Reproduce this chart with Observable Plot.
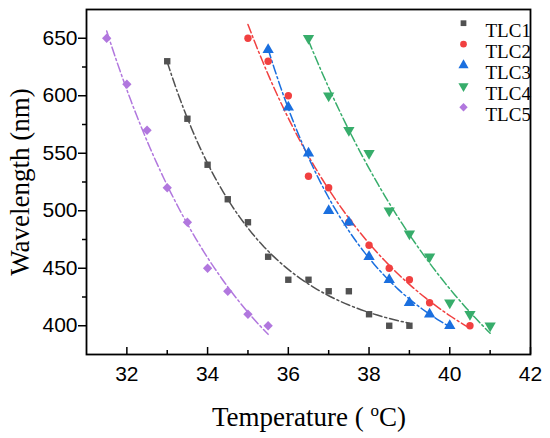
<!DOCTYPE html>
<html><head><meta charset="utf-8">
<script src="https://cdn.jsdelivr.net/npm/d3@7"></script>
<script src="https://cdn.jsdelivr.net/npm/@observablehq/plot@0.6"></script>
<style>body{margin:0;background:#fff}</style>
</head><body><div id="chart"></div>
<script>
const seriesNames = ["TLC1", "TLC2", "TLC3", "TLC4", "TLC5"];
const tlc1T = [33, 33.5, 34, 34.5, 35, 35.5, 36, 36.5, 37, 37.5, 38, 38.5, 39];
const tlc1W = [630, 580, 540, 510, 490, 460, 440, 440, 430, 430, 410, 400, 400];
const tlc2T = [35, 35.5, 36, 36.5, 37, 37.5, 38, 38.5, 39, 39.5, 40.5];
const tlc2W = [650, 630, 600, 530, 520, 490, 470, 450, 440, 420, 400];
const tlc3T = [35.5, 36, 36.5, 37, 37.5, 38, 38.5, 39, 39.5, 40];
const tlc3W = [640, 590, 550, 500, 490, 460, 440, 420, 410, 400];
const tlc4T = [36.5, 37, 37.5, 38, 38.5, 39, 39.5, 40, 40.5, 41];
const tlc4W = [650, 600, 570, 550, 500, 480, 460, 420, 410, 400];
const tlc5T = [31.5, 32, 32.5, 33, 33.5, 34, 34.5, 35, 35.5];
const tlc5W = [650, 610, 570, 520, 490, 450, 430, 410, 400];
const xTicks = [32, 34, 36, 38, 40, 42];
const xMinor = [33, 35, 37, 39, 41];
const yTicks = [400, 450, 500, 550, 600, 650];
const yMinor = [425, 475, 525, 575, 625];
const colors = ["#515151", "#F14040", "#1A6FDF", "#37AD6B", "#B177DE"];

const triDown = {draw(ctx, size) {
  const y = -Math.sqrt(size / (Math.sqrt(3) * 3));
  ctx.moveTo(0, -y * 2);
  ctx.lineTo(-Math.sqrt(3) * y, y);
  ctx.lineTo(Math.sqrt(3) * y, y);
  ctx.closePath();
}};
const symbols = ["square", "circle", "triangle", triDown, "diamond2"];
const radii = [3.6, 3.7, 4.2, 4.2, 4.2];

const temps = [tlc1T, tlc2T, tlc3T, tlc4T, tlc5T];
const waves = [tlc1W, tlc2W, tlc3W, tlc4W, tlc5W];

// exponential-decay least-squares fit: y = a + b * exp(-k (x - x0))
function expFit(xs, ys) {
  const x0 = d3.min(xs);
  let best = null;
  for (let k = 0.005; k <= 4; k += 0.005) {
    const e = xs.map(x => Math.exp(-k * (x - x0)));
    const me = d3.mean(e), my = d3.mean(ys);
    let sxy = 0, sxx = 0;
    e.forEach((v, i) => { sxy += (v - me) * (ys[i] - my); sxx += (v - me) ** 2; });
    const b = sxy / sxx, a = my - b * me;
    const sse = d3.sum(e, (v, i) => (a + b * v - ys[i]) ** 2);
    if (!best || sse < best.sse) best = {a, b, k, sse};
  }
  return x => best.a + best.b * Math.exp(-best.k * (x - x0));
}

const marks = [];
const sans = "Liberation Sans, Arial, sans-serif";
const serif = "Liberation Serif, Times New Roman, serif";

temps.forEach((xs, i) => {
  const f = expFit(xs, waves[i]);
  const [a, b] = d3.extent(xs);
  const curve = d3.range(0, 61).map(k => { const x = a + (b - a) * k / 60; return {x, y: f(x)}; });
  marks.push(Plot.line(curve, {x: "x", y: "y", stroke: colors[i], strokeWidth: 1.5, strokeDasharray: "9,3,2,3"}));
});
temps.forEach((xs, i) => {
  const pts = xs.map((x, j) => ({x, y: waves[i][j]}));
  marks.push(Plot.dot(pts, {x: "x", y: "y", fill: colors[i], symbol: symbols[i], r: radii[i]}));
  marks.push(Plot.dot([seriesNames[i]], {frameAnchor: "top-right", dx: -67, dy: 13.7 + 21 * i, fill: colors[i], symbol: symbols[i], r: radii[i] * 0.9}));
  marks.push(Plot.text([seriesNames[i]], {frameAnchor: "top-right", dx: -45, dy: 13.7 + 21 * i, text: d => d, textAnchor: "start", fontFamily: serif, fontSize: 19, fill: "black"}));
});

marks.push(
  Plot.axisY({ticks: yTicks, tickSize: 8, tickPadding: 1, fontSize: 21, fontFamily: sans, label: null, strokeWidth: 1.5, fill: "black"}),
  Plot.axisY({ticks: yMinor, tickSize: 4, tickFormat: () => "", label: null, strokeWidth: 1.5}),
  Plot.axisX({ticks: xTicks, tickSize: 7, dy: -7, tickFormat: () => "", label: null, strokeWidth: 1.5}),
  Plot.axisX({ticks: xMinor, tickSize: 4, dy: -4, tickFormat: () => "", label: null, strokeWidth: 1.5}),
  Plot.axisX({ticks: xTicks, tickSize: 0, tickPadding: 12, fontSize: 21, fontFamily: sans, label: null, fill: "black"}),
  Plot.frame({stroke: "black", strokeWidth: 1.8}),
  Plot.text(["Wavelength (nm)"], {frameAnchor: "left", rotate: -90, dx: -66, textAnchor: "middle", text: d => d, fontFamily: serif, fontSize: 27, fill: "black"})
);

const chart = Plot.plot({
  width: 550, height: 438,
  marginLeft: 86, marginRight: 20, marginTop: 9, marginBottom: 84,
  x: {domain: [31, 42]},
  y: {domain: [375, 675]},
  style: {background: "white", color: "black", overflow: "visible"},
  marks
});
document.getElementById("chart").appendChild(chart);

// x-axis title with superscript "o"
const svg = d3.select(chart);
const t = svg.append("text")
  .attr("x", 309).attr("y", 426)
  .attr("text-anchor", "middle")
  .attr("font-family", serif).attr("font-size", 27).attr("fill", "black");
t.append("tspan").text("Temperature ( ");
t.append("tspan").attr("font-size", 17).attr("dy", -10).text("o");
t.append("tspan").attr("dy", 10).text("C)");
</script>
</body></html>
